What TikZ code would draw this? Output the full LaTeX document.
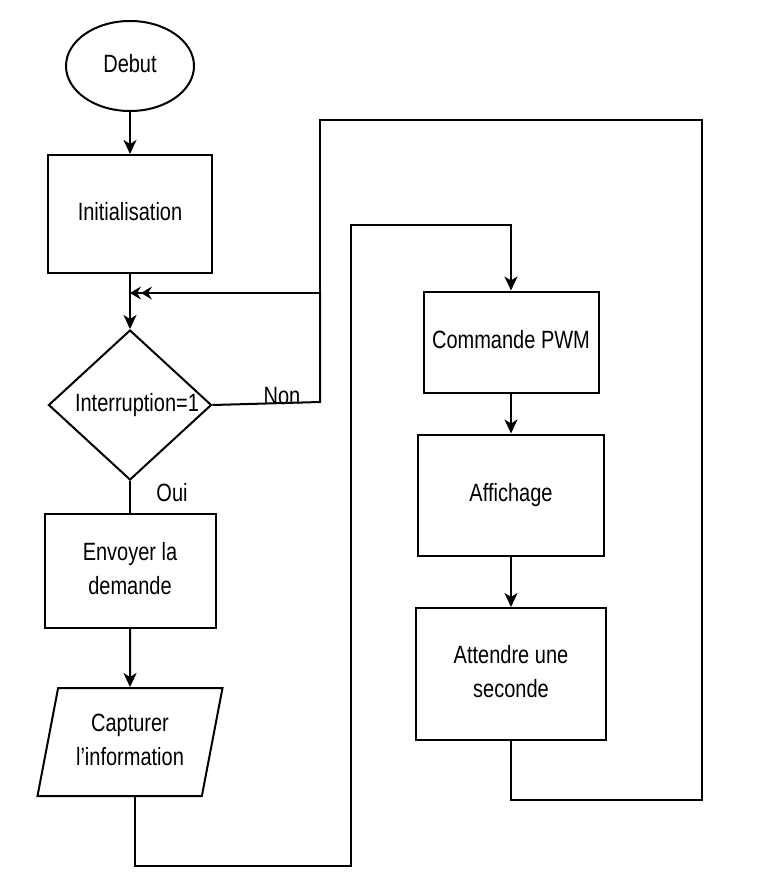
\documentclass[tikz,border=0pt]{standalone}
\usepackage{fontspec}
\setmainfont{Liberation Sans}
\usetikzlibrary{arrows.meta,shapes.geometric}
\newcommand\lbl[1]{\scalebox{1}[1.25]{\fontsize{20}{27}\selectfont\begin{tabular}{@{}c@{}}#1\end{tabular}}}
\begin{document}
\begin{tikzpicture}[x=1pt,y=-1pt,
  box/.style={draw,line width=2pt,rectangle,inner sep=0pt},
  ln/.style={line width=2pt},
  arr/.style={ln,-{Stealth[length=14pt,width=13pt,inset=4pt]}},
  darr/.style={ln,-{Stealth[length=11pt,width=13pt,inset=4pt]Stealth[length=11pt,width=13pt,inset=4pt]}}]
\useasboundingbox (0,0) rectangle (764,891);
% nodes
\node[draw,line width=2pt,ellipse,minimum width=128pt,minimum height=90pt,inner sep=0pt] (debut) at (130,66) {\lbl{Debut}};
\node[box,minimum width=164pt,minimum height=118pt] (init) at (130,214) {\lbl{Initialisation}};
\node[draw,line width=2pt,diamond,minimum width=163pt,minimum height=150pt,inner sep=0pt,aspect=1.087] (dec) at (130,405) {};
\node at (137,405) {\lbl{Interruption=1}};
\node[box,minimum width=171pt,minimum height=114pt] (env) at (130,571) {\lbl{Envoyer la\\demande}};
\node[draw,line width=2pt,trapezium,trapezium left angle=73,trapezium right angle=107,trapezium stretches body,minimum width=185pt,minimum height=108pt,inner sep=0pt] (cap) at (130,742) {\lbl{Capturer\\l'information}};
\node[box,minimum width=175pt,minimum height=101pt] (pwm) at (511,342) {\lbl{Commande PWM}};
\node[box,minimum width=186pt,minimum height=121pt] (aff) at (511,495) {\lbl{Affichage}};
\node[box,minimum width=190pt,minimum height=132pt] (att) at (511,674) {\lbl{Attendre une\\seconde}};
% labels
\node (non) at (282,398) {\lbl{Non}};
\node (oui) at (172,495) {\lbl{Oui}};
% junction coordinates
\coordinate (m) at (130,293);
\coordinate (j) at (320,293);
% connectors
\draw[arr] (debut.south) -- (init.north);
\draw[ln] (init.south) -- (m);
\draw[arr] (m) -- (dec.north);
\draw[ln] (dec.south) -- (env.north);
\draw[arr] (env.south) -- (cap.north);
\draw[arr] (pwm.south) -- (aff.north);
\draw[arr] (aff.south) -- (att.north);
\draw[ln] (dec.east) -- (320,402) -- (j);
\draw[ln] (att.south) -- (511,800) -- (702,800) -- (702,120) -- (320,120) -- (j);
\draw[darr] (j) -- (m);
\draw[arr] (cap.south -| 135,0) -- (135,866) -- (351,866) -- (351,225) -- (511,225) -- (pwm.north);
\end{tikzpicture}
\end{document}
